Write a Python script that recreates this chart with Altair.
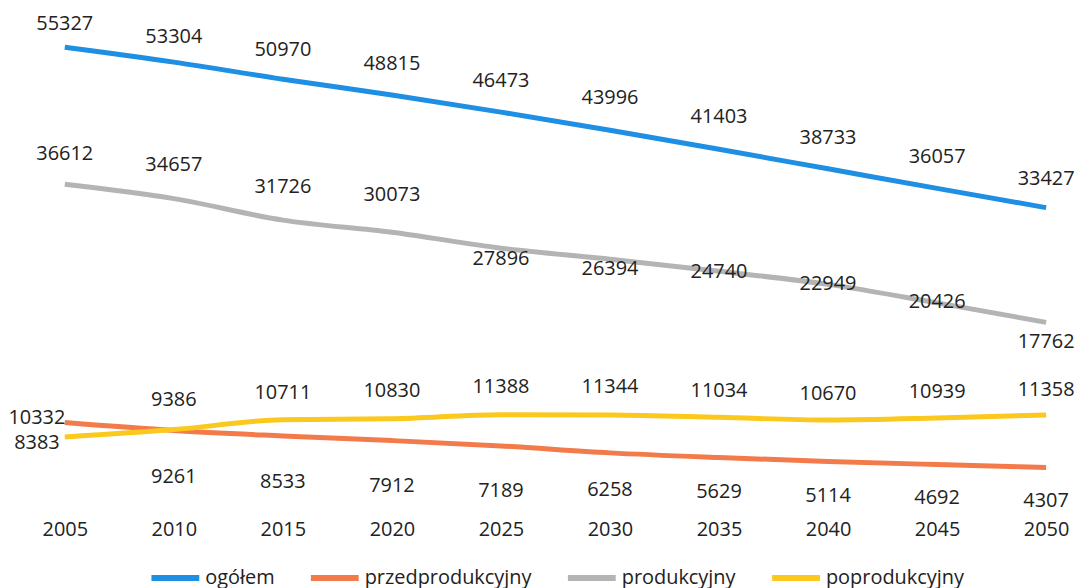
import altair as alt
import pandas as pd

years = [2005, 2010, 2015, 2020, 2025, 2030, 2035, 2040, 2045, 2050]
series_names = ["ogółem", "przedprodukcyjny", "produkcyjny", "poprodukcyjny"]

ogolem = [55327, 53304, 50970, 48815, 46473, 43996, 41403, 38733, 36057, 33427]
przedprodukcyjny = [10332, 9261, 8533, 7912, 7189, 6258, 5629, 5114, 4692, 4307]
produkcyjny = [36612, 34657, 31726, 30073, 27896, 26394, 24740, 22949, 20426, 17762]
poprodukcyjny = [8383, 9386, 10711, 10830, 11388, 11344, 11034, 10670, 10939, 11358]

# label placement (pixel offsets from each point, as placed in the original)
dy_ogolem = [-23, -25, -29, -31, -31, -32, -32, -31, -31, -29]
dy_przed = [-5, 47, 46, 46, 45, 37, 35, 35, 34, 34]
dy_prod = [-30, -34, -33, -37, 11, 10, 1, 0, -1, 20]
dy_popr = [6, -30, -27, -28, -28, -28, -26, -26, -26, -25]
dx_przed = [-28, 0, 0, 0, 0, 0, 0, 0, 0, 0]
dx_popr = [-28, 0, 0, 0, 0, 0, 0, 0, 0, 0]
zeros = [0] * 10

colors = ["#1f8fe3", "#f37b4b", "#b4b4b4", "#fbc81e"]

W, H = 1060, 492
X_DOMAIN = [2002.396, 2050.822]
UP_DOMAIN = [-6395, 60544]
LOW_DOMAIN = [27, 65890]

rows = []
for name, vals, dxs, dys, grp in [
    ("ogółem", ogolem, zeros, dy_ogolem, "upper"),
    ("przedprodukcyjny", przedprodukcyjny, dx_przed, dy_przed, "lower"),
    ("produkcyjny", produkcyjny, zeros, dy_prod, "upper"),
    ("poprodukcyjny", poprodukcyjny, dx_popr, dy_popr, "lower"),
]:
    for y, v, dx, dy in zip(years, vals, dxs, dys):
        rows.append({"year": y, "series": name, "value": v, "dx": dx, "dy": dy, "group": grp})
df = pd.DataFrame(rows)

FONT = "Open Sans"
xk = (X_DOMAIN[1] - X_DOMAIN[0]) / W

color = alt.Color(
    "series:N",
    scale=alt.Scale(domain=series_names, range=colors),
    sort=series_names,
    legend=alt.Legend(
        title=None,
        orient="none",
        legendX=141,
        legendY=544,
        direction="horizontal",
        columns=4,
        symbolType="stroke",
        symbolSize=2304,
        symbolStrokeWidth=6,
        labelFont=FONT,
        labelFontSize=20,
        labelColor="#222222",
        labelOffset=3,
        labelLimit=400,
        columnPadding=24,
        padding=0,
    ),
)

x_axis = alt.Axis(
    values=years,
    format="d",
    title=None,
    grid=False,
    domain=False,
    ticks=False,
    tickSize=0,
    labelPadding=20,
    labelFont=FONT,
    labelFontSize=20,
    labelColor="#222222",
    labelOverlap=False,
    labelFlush=False,
)

x_scale = alt.Scale(domain=X_DOMAIN, nice=False, zero=False)


def panel(group, domain):
    yk = (domain[1] - domain[0]) / H
    base = alt.Chart(df).transform_filter(alt.datum.group == group)
    yscale = alt.Scale(domain=domain, nice=False, zero=False)
    line = base.mark_line(strokeWidth=5, interpolate="monotone", strokeCap="butt").encode(
        x=alt.X("year:Q", scale=x_scale, axis=x_axis),
        y=alt.Y("value:Q", scale=yscale, axis=None),
        color=color,
        detail="series:N",
    )
    text = base.transform_calculate(
        ly=f"datum.value - datum.dy * {yk}",
        lx=f"datum.year + datum.dx * {xk}",
    ).mark_text(font=FONT, fontSize=20, color="#222222", align="center", baseline="middle").encode(
        x=alt.X("lx:Q", scale=x_scale, axis=x_axis),
        y=alt.Y("ly:Q", scale=yscale, axis=None),
        text=alt.Text("value:Q", format="d"),
    )
    return line, text


lu, tu = panel("upper", UP_DOMAIN)
ll, tl = panel("lower", LOW_DOMAIN)

chart = (
    alt.layer(ll, lu, tl, tu)
    .resolve_scale(y="independent")
    .properties(width=W, height=H, padding=0, background="white")
    .configure_view(strokeWidth=0)
)

chart.save("out.html", embed_options={"renderer": "svg", "actions": False})
